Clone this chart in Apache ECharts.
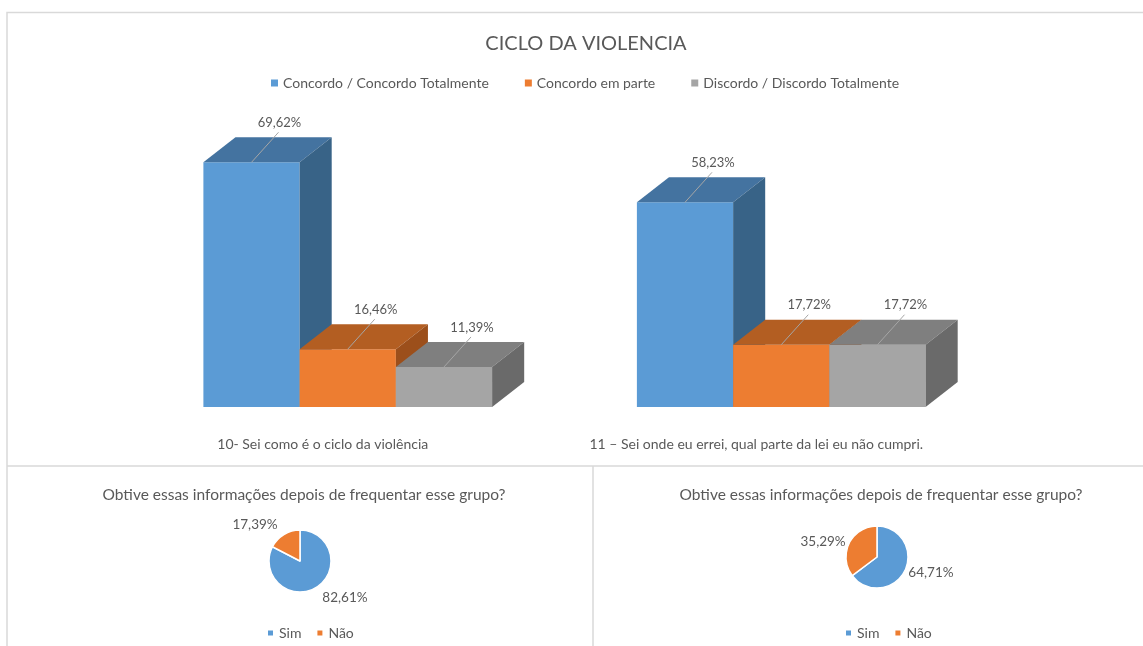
<!DOCTYPE html>
<html>
<head>
<meta charset="utf-8">
<script src="https://cdn.jsdelivr.net/npm/echarts@6/dist/echarts.min.js"></script>
<style>
  html, body { margin: 0; padding: 0; background: #fff; }
  #chart { width: 1143px; height: 646px; }
</style>
</head>
<body>
<div id="chart"></div>
<script>
// data
var categories = ['10- Sei como é o ciclo da violência', '11 – Sei onde eu errei, qual parte da lei eu não cumpri.'];
var seriesNames = ['Concordo / Concordo Totalmente', 'Concordo em parte', 'Discordo / Discordo Totalmente'];
var concordo = [69.62, 58.23];
var emParte = [16.46, 17.72];
var discordo = [11.39, 17.72];

var pieNames = ['Sim', 'Não'];
var pieTitle = 'Obtive essas informações depois de frequentar esse grupo?';
var pieLeft = [82.61, 17.39];
var pieRight = [64.71, 35.29];

// styles
var font = 'Lato, "Open Sans", sans-serif';
var textColor = '#595959';
var faces = [
  {front: '#5B9BD5', top: '#4473A0', side: '#386387'},
  {front: '#ED7D31', top: '#B35E22', side: '#9C4F1B'},
  {front: '#A5A5A5', top: '#7F7F7F', side: '#6A6A6A'}
];
var BAR_RATIO = 0.222;   // bar width / band width
var DEPTH_X = 0.074;     // depth offset / band width
var DEPTH_Y = 25;

function fmt(v) { return v.toFixed(2).replace('.', ',') + '%'; }

function makeRender(slot) {
  var c = faces[slot];
  return function (params, api) {
    var cat = api.value(0), val = api.value(1);
    var top = api.coord([cat, val]);
    var base = api.coord([cat, 0]);
    var band = api.size([1, 0])[0];
    var w = band * BAR_RATIO;
    var dx = band * DEPTH_X, dy = DEPTH_Y;
    var x0 = top[0] - 1.5 * w + slot * w;
    var y = top[1], yb = base[1];
    var mx = x0 + w / 2;
    return {
      type: 'group',
      children: [
        {type: 'rect', shape: {x: x0, y: y, width: w, height: yb - y}, style: {fill: c.front}},
        {type: 'polygon', shape: {points: [[x0, y], [x0 + w, y], [x0 + w + dx, y - dy], [x0 + dx, y - dy]]}, style: {fill: c.top}},
        {type: 'polygon', shape: {points: [[x0 + w, y], [x0 + w + dx, y - dy], [x0 + w + dx, yb - dy], [x0 + w, yb]]}, style: {fill: c.side}},
        {type: 'line', shape: {x1: mx, y1: y, x2: mx + 27, y2: y - 30}, style: {stroke: '#A6A6A6', lineWidth: 1}},
        {type: 'text', x: mx + 28, y: y - 33, style: {text: fmt(val), fill: textColor, font: '13px ' + font, textAlign: 'center', textVerticalAlign: 'bottom'}}
      ]
    };
  };
}

var barSeries = [concordo, emParte, discordo].map(function (vals, i) {
  return {
    name: seriesNames[i],
    type: 'custom',
    renderItem: makeRender(i),
    encode: {x: 0, y: 1},
    itemStyle: {color: faces[i].front},
    data: vals.map(function (v, k) { return [k, v]; })
  };
});

function pieSeries(vals, center, lineLen) {
  return {
    type: 'pie',
    center: center,
    radius: 31,
    startAngle: 90,
    clockwise: true,
    itemStyle: {borderColor: '#fff', borderWidth: 1.5},
    label: {
      position: 'outside',
      formatter: function (p) { return fmt(p.value); },
      color: textColor, fontFamily: font, fontSize: 13.5,
      distanceToLabelLine: 0
    },
    labelLine: {show: false, length: lineLen, length2: 0},
    data: vals.map(function (v, k) { return {name: pieNames[k], value: v}; })
  };
}

var chart = echarts.init(document.getElementById('chart'));
chart.setOption({
  backgroundColor: '#fff',
  animation: false,
  color: ['#5B9BD5', '#ED7D31', '#A5A5A5'],
  title: [
    {text: 'CICLO DA VIOLENCIA', left: 581, top: 29, textAlign: 'center',
     textStyle: {color: textColor, fontFamily: font, fontSize: 20, fontWeight: 'normal'}},
    {text: pieTitle, left: 299, top: 482, textAlign: 'center',
     textStyle: {color: textColor, fontFamily: font, fontSize: 15.5, fontWeight: 'normal'}},
    {text: pieTitle, left: 876, top: 482, textAlign: 'center',
     textStyle: {color: textColor, fontFamily: font, fontSize: 15.5, fontWeight: 'normal'}}
  ],
  legend: [
    {data: seriesNames, left: 266, top: 71, icon: 'rect', itemWidth: 7, itemHeight: 7, itemGap: 36,
     textStyle: {color: textColor, fontFamily: font, fontSize: 14}},
    {data: pieNames, left: 261, top: 621, icon: 'rect', itemWidth: 7, itemHeight: 7, itemGap: 14,
     textStyle: {color: textColor, fontFamily: font, fontSize: 14}},
    {data: pieNames, left: 839, top: 621, icon: 'rect', itemWidth: 7, itemHeight: 7, itemGap: 14,
     textStyle: {color: textColor, fontFamily: font, fontSize: 14}}
  ],
  grid: {left: 131, right: 145, top: 55.5, bottom: 239},
  xAxis: {
    type: 'category',
    data: categories,
    axisLine: {show: false},
    axisTick: {show: false},
    axisLabel: {interval: 0, hideOverlap: false, margin: 30, color: textColor, fontFamily: font, fontSize: 14, padding: [0, 50, 0, 0]}
  },
  yAxis: {type: 'value', min: 0, max: 100, show: false},
  graphic: [
    {type: 'polyline', shape: {points: [[7, 646], [7, 12.5], [1143, 12.5]]}, style: {stroke: '#d9d9d9', lineWidth: 1.5, fill: null}},
    {type: 'line', shape: {x1: 7, y1: 466, x2: 1143, y2: 466}, style: {stroke: '#d9d9d9', lineWidth: 1.5}},
    {type: 'line', shape: {x1: 593, y1: 466, x2: 593, y2: 646}, style: {stroke: '#d9d9d9', lineWidth: 1.5}}
  ],
  series: barSeries.concat([
    pieSeries(pieLeft, [300, 561], 12),
    pieSeries(pieRight, [877, 557], 4)
  ])
});
</script>
</body>
</html>
